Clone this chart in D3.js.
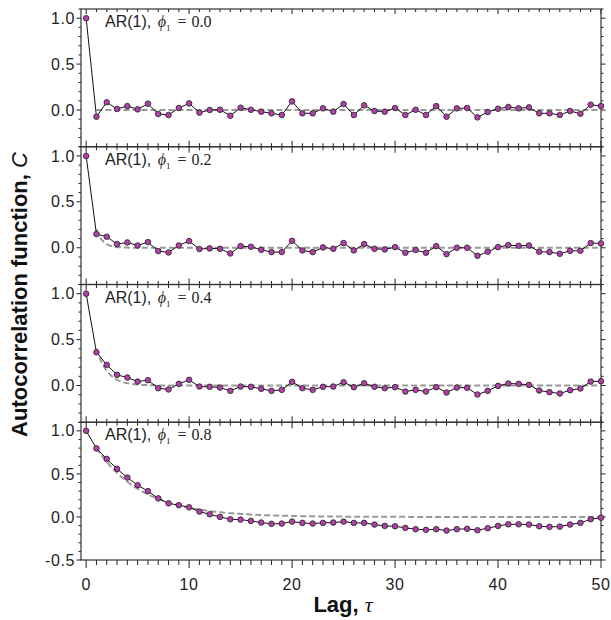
<!DOCTYPE html>
<html lang="en">
<head>
    <meta charset="UTF-8">
    <title>Autocorrelation of AR(1) series</title>
    <script src="https://d3js.org/d3.v7.min.js"></script>
    <style>
        body { margin: 0; background: #fff; }
        svg { display: block; font-family: 'Liberation Sans', Arial, sans-serif; }
        .frame { fill: none; stroke: #333; stroke-width: 1.2; }
        .tick-mark { stroke: #222; stroke-width: 1; }
        .tick-label { font-size: 16px; fill: #222; letter-spacing: 0.6px; }
        .theory { fill: none; stroke: #999; stroke-width: 2; stroke-dasharray: 6,3; }
        .acf-line { fill: none; stroke: #111; stroke-width: 1; }
        .acf-dot { fill: #b040a8; stroke: #222; stroke-width: 0.8; }
        .panel-label { font-size: 16px; fill: #222; }
        .serif { font-family: 'Liberation Serif', 'Times New Roman', serif; }
        .axis-title { font-size: 22px; font-weight: bold; fill: #111; }
    </style>
</head>
<body>
<svg width="611" height="620"></svg>
<script>
    // lags 0..50
    const lags = d3.range(0, 51);
    const phis = [0.0, 0.2, 0.4, 0.8];

    // sample autocorrelations
    const acf00 = [1.0, -0.073, 0.084, 0.011, 0.043, 0.007, 0.069, -0.043, -0.054, 0.022, 0.072,
        -0.029, 0.0, 0.003, -0.062, 0.025, 0.003, -0.018, -0.036, -0.054, 0.094,
        -0.036, -0.036, 0.018, -0.018, 0.065, -0.054, 0.051, -0.011, -0.018, 0.022,
        -0.054, 0.003, -0.054, 0.043, -0.073, 0.018, 0.022, -0.080, -0.022, 0.014,
        0.033, 0.018, 0.029, -0.036, -0.036, -0.054, -0.011, -0.040, 0.058, 0.043];
    const acf02 = [1.0, 0.149, 0.12, 0.04, 0.058, 0.025, 0.062, -0.036, -0.051, 0.025, 0.073,
        -0.014, -0.007, -0.011, -0.062, 0.018, 0.011, -0.022, -0.047, -0.047, 0.076,
        -0.029, -0.047, 0.004, -0.011, 0.051, -0.029, 0.04, -0.011, -0.018, 0.007,
        -0.054, -0.025, -0.054, 0.018, -0.069, 0.0, 0.0, -0.087, -0.043, 0.007,
        0.029, 0.022, 0.025, -0.043, -0.047, -0.065, -0.033, -0.033, 0.051, 0.047];
    const acf04 = [1.0, 0.362, 0.225, 0.116, 0.087, 0.043, 0.058, -0.029, -0.043, 0.018, 0.062,
        -0.011, -0.014, -0.022, -0.058, -0.011, -0.014, -0.036, -0.058, -0.047, 0.04,
        -0.029, -0.047, -0.014, -0.011, 0.036, -0.018, 0.025, -0.014, -0.029, -0.018,
        -0.065, -0.047, -0.065, -0.018, -0.076, -0.022, -0.025, -0.098, -0.058, -0.004,
        0.022, 0.018, 0.007, -0.054, -0.072, -0.087, -0.051, -0.033, 0.043, 0.047];
    const acf08 = [1.0, 0.796, 0.674, 0.558, 0.458, 0.369, 0.30, 0.216, 0.158, 0.137, 0.112,
        0.062, 0.031, 0.0, -0.027, -0.031, -0.046, -0.065, -0.08, -0.077, -0.054,
        -0.069, -0.077, -0.069, -0.065, -0.054, -0.069, -0.069, -0.088, -0.104, -0.108,
        -0.127, -0.142, -0.15, -0.142, -0.158, -0.142, -0.138, -0.154, -0.131, -0.104,
        -0.085, -0.085, -0.088, -0.108, -0.115, -0.112, -0.088, -0.069, -0.027, -0.008];
    const series = [acf00, acf02, acf04, acf08];

    const yDomains = [[-0.4, 1.1], [-0.4, 1.1], [-0.4, 1.1], [-0.5, 1.1]];
    const yTickLabels = [[0, 0.5, 1], [0, 0.5, 1], [0, 0.5, 1], [-0.5, 0, 0.5, 1]];
    const xTickLabels = [0, 10, 20, 30, 40, 50];

    const svg = d3.select("svg");
    const mLeft = 81, mRight = 601, mTop = 9, mBottom = 560;
    const panelH = (mBottom - mTop) / phis.length;
    const fmt = v => d3.format(".1f")(v).replace("\u2212", "-");

    const x = d3.scaleLinear().domain([-0.5, 50]).range([mLeft, mRight]);

    phis.forEach((phi, i) => {
        const y0 = mTop + i * panelH, y1 = y0 + panelH;
        const y = d3.scaleLinear().domain(yDomains[i]).range([y1, y0]);
        const g = svg.append("g");
        const last = i === phis.length - 1;

        // minor/major ticks on left and right
        const yMinor = d3.range(Math.round(yDomains[i][0] * 10), Math.round(yDomains[i][1] * 10) + 1).map(v => v / 10);
        yMinor.forEach(v => {
            const major = Math.abs(v * 2 - Math.round(v * 2)) < 1e-6;
            const len = major ? 4.5 : 2.5;
            g.append("line").attr("class", "tick-mark")
                .attr("x1", mLeft - len).attr("x2", mLeft).attr("y1", y(v)).attr("y2", y(v));
            g.append("line").attr("class", "tick-mark")
                .attr("x1", mRight).attr("x2", mRight + len).attr("y1", y(v)).attr("y2", y(v));
        });

        // ticks along top and bottom
        lags.forEach(l => {
            const major = l % 10 === 0;
            const tl = i === 0 ? (major ? 5 : 3) : (major ? 6 : 3.5);
            g.append("line").attr("class", "tick-mark")
                .attr("x1", x(l)).attr("x2", x(l)).attr("y1", y0).attr("y2", y0 + tl);
            if (last) {
                g.append("line").attr("class", "tick-mark")
                    .attr("x1", x(l)).attr("x2", x(l)).attr("y1", y1).attr("y2", y1 + (major ? 8 : 5));
            } else {
                g.append("line").attr("class", "tick-mark")
                    .attr("x1", x(l)).attr("x2", x(l)).attr("y1", y1).attr("y2", y1 - (major ? 6 : 3.5));
            }
        });

        g.append("rect").attr("class", "frame")
            .attr("x", mLeft).attr("y", y0).attr("width", mRight - mLeft).attr("height", panelH);

        g.selectAll(".ylab").data(yTickLabels[i]).enter()
            .append("text").attr("class", "tick-label")
            .attr("x", mLeft - 6).attr("y", d => y(d)).attr("dy", "0.35em")
            .attr("text-anchor", "end")
            .text(d => fmt(d));

        // theoretical ACF of an AR(1) process: phi^tau (drawn from lag 1 on)
        const tau = d3.range(1, 50.01, 0.1);
        g.append("path").attr("class", "theory")
            .attr("d", d3.line().x(t => x(t)).y(t => y(Math.pow(phi, t)))(tau));

        const vals = series[i];
        g.append("path").attr("class", "acf-line")
            .attr("d", d3.line().x((d, k) => x(lags[k])).y(d => y(d))(vals));
        g.selectAll(".acf-dot").data(vals).enter()
            .append("circle").attr("class", "acf-dot")
            .attr("cx", (d, k) => x(lags[k])).attr("cy", d => y(d)).attr("r", 2.8);

        const lab = g.append("text").attr("class", "panel-label")
            .attr("x", 105).attr("y", y0 + 18);
        lab.append("tspan").text("AR(1), ");
        lab.append("tspan").attr("class", "serif").attr("font-style", "italic").attr("dx", 2).text("\u03d5");
        lab.append("tspan").attr("class", "serif").attr("font-size", 9).attr("dy", 4).text("1");
        lab.append("tspan").attr("class", "serif").attr("dy", -4).attr("dx", 7).text("=");
        lab.append("tspan").attr("class", "serif").attr("dx", 5).text(fmt(phi));

        if (last) {
            g.selectAll(".xlab").data(xTickLabels).enter()
                .append("text").attr("class", "tick-label")
                .attr("x", d => x(d)).attr("y", 590)
                .attr("text-anchor", "middle")
                .text(d => d);
        }
    });

    // axis titles
    const yt = svg.append("text").attr("class", "axis-title")
        .attr("transform", `translate(27,${(mTop + mBottom) / 2 + 10}) rotate(-90)`)
        .attr("text-anchor", "middle");
    yt.append("tspan").text("Autocorrelation function, ");
    yt.append("tspan").attr("font-style", "italic").attr("font-weight", "normal").text("C");

    const xt = svg.append("text").attr("class", "axis-title")
        .attr("x", (mLeft + mRight) / 2 + 2).attr("y", 612).attr("text-anchor", "middle");
    xt.append("tspan").text("Lag, ");
    xt.append("tspan").attr("class", "serif").attr("font-style", "italic").attr("font-weight", "normal").text("\u03c4");
</script>
</body>
</html>
